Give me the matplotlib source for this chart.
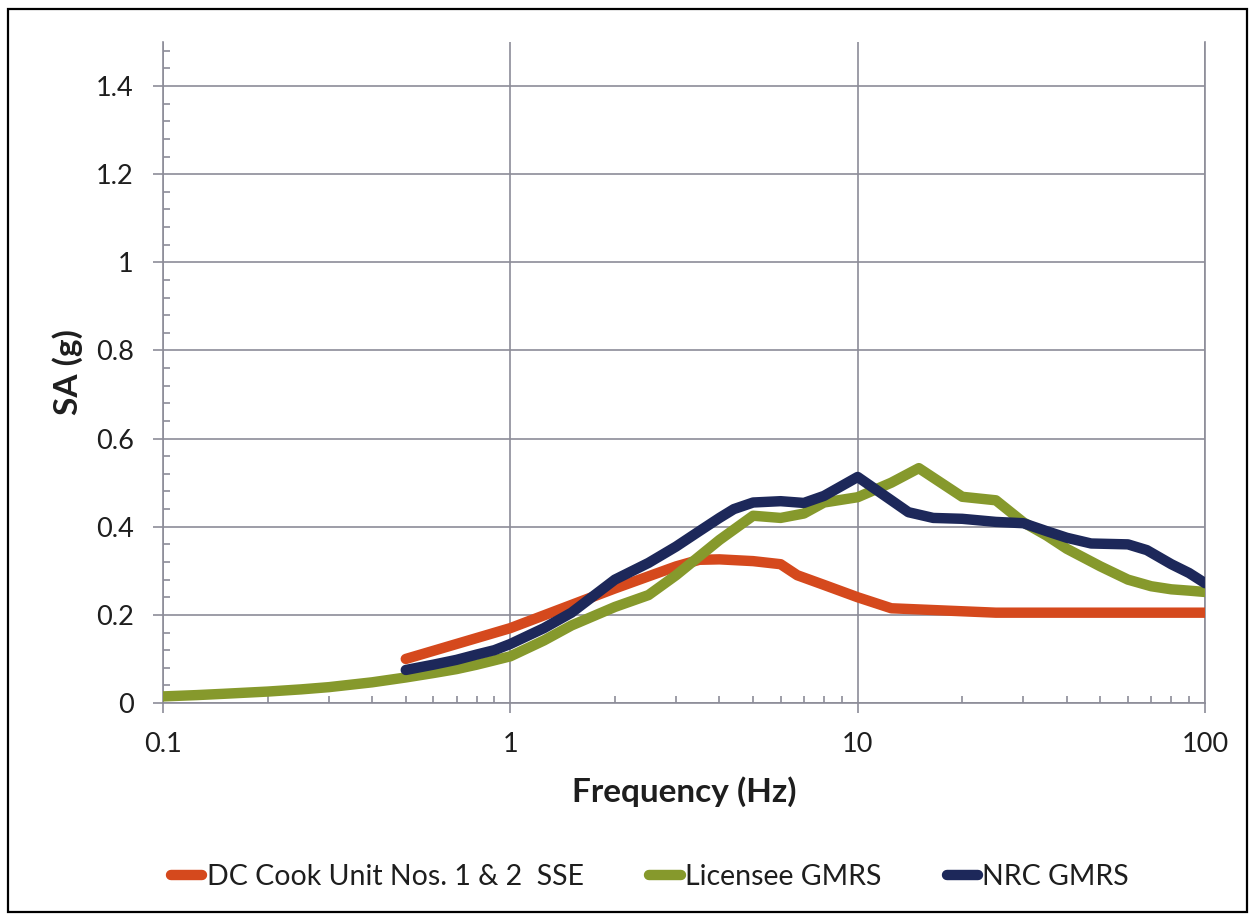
"""
Response spectra comparison: DC Cook SSE vs Licensee / NRC GMRS.
Log-frequency x axis, spectral acceleration (g) on y.
"""

import matplotlib
matplotlib.use("Agg")
import matplotlib.pyplot as plt
import matplotlib.ticker as ticker
from matplotlib.patches import Rectangle

# ── data ─────────────────────────────────────────────────────────────────
sse_freq = [0.5, 1, 2, 3, 3.5, 4, 5, 6, 6.7, 8, 10, 12.5, 25, 100]
sse_sa = [0.100, 0.170, 0.260, 0.310, 0.325, 0.326, 0.322, 0.315, 0.290,
          0.268, 0.240, 0.215, 0.205, 0.205]

lic_freq = [0.1, 0.125, 0.15, 0.2, 0.25, 0.3, 0.4, 0.5, 0.6, 0.7, 0.8, 0.9,
            1, 1.25, 1.5, 2, 2.5, 3, 4, 5, 6, 7, 8, 10, 12.5, 15, 20, 25,
            30, 35, 40, 50, 60, 70, 80, 90, 100]
lic_sa = [0.015, 0.018, 0.021, 0.026, 0.031, 0.036, 0.047, 0.058, 0.068,
          0.077, 0.087, 0.097, 0.106, 0.142, 0.176, 0.218, 0.245, 0.290,
          0.370, 0.425, 0.420, 0.430, 0.455, 0.467, 0.500, 0.533, 0.468,
          0.460, 0.410, 0.380, 0.350, 0.310, 0.280, 0.265, 0.258, 0.255,
          0.252]

nrc_freq = [0.5, 0.6, 0.7, 0.8, 0.9, 1, 1.25, 1.5, 2, 2.5, 3, 3.5, 4, 4.4,
            5, 6, 7, 8, 10, 12.5, 14, 16.5, 20, 25, 30, 35, 40, 47, 60, 68,
            80, 90, 100]
nrc_sa = [0.075, 0.087, 0.098, 0.110, 0.120, 0.134, 0.170, 0.205, 0.280,
          0.318, 0.355, 0.390, 0.420, 0.440, 0.455, 0.458, 0.454, 0.470,
          0.513, 0.460, 0.433, 0.420, 0.418, 0.411, 0.408, 0.390, 0.375,
          0.362, 0.360, 0.347, 0.315, 0.295, 0.272]

series_labels = ["DC Cook Unit Nos. 1 & 2  SSE", "Licensee GMRS", "NRC GMRS"]
series_colors = ["#d5491d", "#86992c", "#1d285a"]

x_ticks = [0.1, 1, 10, 100]
x_ticklabels = ["0.1", "1", "10", "100"]
y_ticks = [0, 0.2, 0.4, 0.6, 0.8, 1.0, 1.2, 1.4]
y_ticklabels = ["0", "0.2", "0.4", "0.6", "0.8", "1", "1.2", "1.4"]

GRID = "#8c8c98"
TEXT = "#1e1e1e"

plt.rcParams["font.family"] = ["Lato", "DejaVu Sans"]

fig = plt.figure(figsize=(12.5, 9.16), dpi=100)
fig.patch.set_facecolor("white")
ax = fig.add_axes([0.1304, 0.2325, 0.8336, 0.7217])

lw = 7.5
for fx, sa, lab, col in zip(
    [sse_freq, lic_freq, nrc_freq],
    [sse_sa, lic_sa, nrc_sa],
    series_labels, series_colors,
):
    ax.plot(fx, sa, color=col, lw=lw, label=lab,
            solid_capstyle="round", solid_joinstyle="round", zorder=3)

ax.set_xscale("log")
ax.set_xlim(0.1, 100)
ax.set_ylim(0, 1.5)

ax.set_xticks(x_ticks)
ax.set_xticklabels(x_ticklabels)
ax.xaxis.set_minor_locator(ticker.LogLocator(base=10, subs=range(2, 10)))
ax.xaxis.set_minor_formatter(ticker.NullFormatter())
ax.set_yticks(y_ticks)
ax.set_yticklabels(y_ticklabels)
ax.yaxis.set_minor_locator(ticker.MultipleLocator(0.04))

ax.tick_params(which="major", direction="out", length=7, width=1.2,
               color=GRID, labelsize=19.5, labelcolor=TEXT, pad=14)
ax.tick_params(which="minor", direction="in", length=5, width=1.2,
               color=GRID)

ax.grid(True, which="major", color=GRID, lw=1.2)
ax.spines["top"].set_visible(False)
for side in ["left", "bottom", "right"]:
    ax.spines[side].set_color(GRID)
    ax.spines[side].set_linewidth(1.2)
ax.set_axisbelow(True)

ax.set_xlabel("Frequency (Hz)", fontsize=24, fontweight="bold",
              color=TEXT, labelpad=14)
ax.set_ylabel("SA (g)", fontsize=24, fontweight="bold",
              color=TEXT, labelpad=9)

fig.legend(loc="center", bbox_to_anchor=(0.52, 0.0426), ncol=3,
           frameon=False, fontsize=20.5, handlelength=1.1, handletextpad=0.15,
           columnspacing=2.3, labelcolor=TEXT)

# outer frame round the whole chart
fig.patches.append(Rectangle((0.0064, 0.0044), 0.991, 0.986,
                             transform=fig.transFigure, fill=False,
                             edgecolor="black", lw=1.6))

fig.savefig("out.png", dpi=100)
